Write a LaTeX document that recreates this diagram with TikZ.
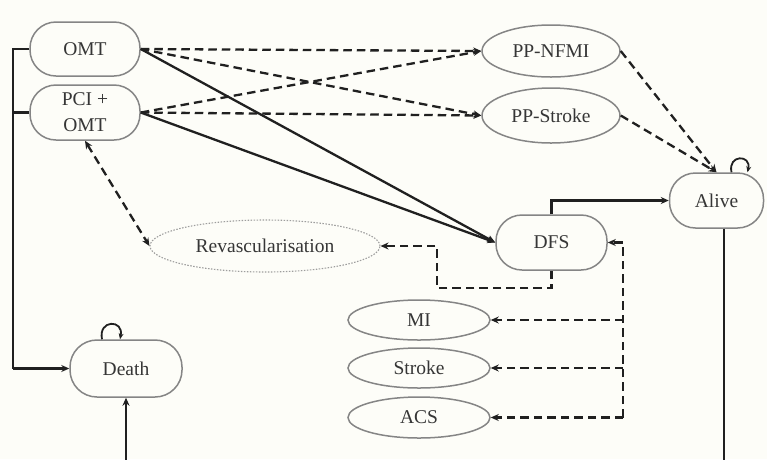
\documentclass[tikz,border=0pt]{standalone}
\usepackage{fontspec}
\setmainfont{Liberation Serif}
\usetikzlibrary{arrows.meta,shapes.geometric}
\definecolor{bg}{HTML}{FDFDF8}
\definecolor{ink}{HTML}{202020}
\definecolor{rim}{HTML}{858585}
\begin{document}
\begin{tikzpicture}[x=1pt,y=-1pt,
  every node/.style={font=\fontsize{19.5}{26}\selectfont, text=ink!90},
  stadium/.style={draw=rim, line width=1.5pt, rounded corners=26pt,
    minimum width=110pt, minimum height=54pt, inner sep=0pt, align=center, fill=bg},
  oval/.style={draw=rim, line width=1.5pt, ellipse, inner sep=0pt, fill=bg},
  wire/.style={draw=ink, line width=2.3pt},
  flow/.style={wire, -{Stealth[length=8pt,width=7pt]}},
  dflow/.style={flow, dash pattern=on 8.5pt off 5pt},
  loopflow/.style={draw=ink, line width=1.8pt, -{Stealth[length=6pt,width=5pt]}}
]
\useasboundingbox (0,0) rectangle (767,459);
\fill[bg] (0,0) rectangle (767,459);

% states
\node[stadium] (omt) at (85,49) {OMT};
\node[stadium, minimum height=55pt] (pci) at (85,112.5) {PCI +\\OMT};
\node[stadium, minimum width=112pt, minimum height=57pt, rounded corners=27pt] (death) at (126,368.5) {Death};
\node[stadium, minimum width=94pt, minimum height=55pt] (alive) at (716.5,200.5) {Alive};
\node[stadium, minimum width=111pt, minimum height=55pt] (dfs) at (551.5,242.5) {DFS};

% events
\node[oval, minimum width=138pt, minimum height=52pt] (ppnfmi) at (551,51) {PP-NFMI};
\node[oval, minimum width=138pt, minimum height=55pt] (ppstroke) at (551,115.5) {PP-Stroke};
\node[oval, draw=rim!80, line width=1.1pt, dash pattern=on 1.5pt off 1.5pt,
      minimum width=230pt, minimum height=52pt] (revasc) at (265,246) {Revascularisation};
\node[oval, minimum width=142pt, minimum height=40pt] (mi) at (419,320) {MI};
\node[oval, minimum width=142pt, minimum height=40pt] (stroke) at (419,368) {Stroke};
\node[oval, minimum width=142pt, minimum height=41pt] (acs) at (419,417.5) {ACS};

% treatment arms to post-procedural events
\draw[dflow] (omt.east) -- (ppnfmi.west);
\draw[dflow] (omt.east) -- (ppstroke.west);
\draw[dflow] (pci.east) -- (ppnfmi.west);
\draw[dflow] (pci.east) -- (ppstroke.west);

% treatment arms to disease-free survival
\draw[flow] (omt.east) -- (dfs.west);
\draw[flow] (pci.east) -- (dfs.west);

% post-procedural events to alive
\draw[dflow] (ppnfmi.east) -- (alive.north);
\draw[dflow] (ppstroke.east) -- (alive.north);

% revascularisation
\draw[dflow, {Stealth[length=8pt,width=7pt]}-{Stealth[length=8pt,width=7pt]}] (pci.south) -- (revasc.west);
\coordinate (rv) at (437,288);
\draw[dflow] (dfs.south) |- (rv) |- (revasc.east);

% DFS to alive
\draw[flow] (dfs.north) |- (alive.west);

% events bracket
\coordinate (eb) at (623,417.5);
\draw[dflow] (eb) |- (dfs.east);
\draw[dflow] (623,320) -- (mi.east);
\draw[dflow] (623,368) -- (stroke.east);
\draw[dflow] (eb) -- (acs.east);

% arms to death
\coordinate (lb) at (13,368.5);
\draw[wire] (omt.west) -| (lb);
\draw[wire] (pci.west) -- (13,112.5);
\draw[flow] (lb) -- (death.west);

% self loops
\draw[loopflow] ([xshift=15]alive.north) .. controls +(-4,-18) and +(4,-18) .. ([xshift=31]alive.north);
\draw[loopflow] ([xshift=-24]death.north) .. controls +(-4,-20) and +(4,-20) .. ([xshift=-6]death.north);

% alive to death, running below the frame
\coordinate (aliveDrop) at (724,480);
\coordinate (deathRise) at (126,480);
\begin{scope}
  \clip (0,0) rectangle (767,459);
  \draw[flow] ([xshift=7.5]alive.south) -- (aliveDrop) -- (deathRise) -- (death.south);
\end{scope}
\end{tikzpicture}
\end{document}
